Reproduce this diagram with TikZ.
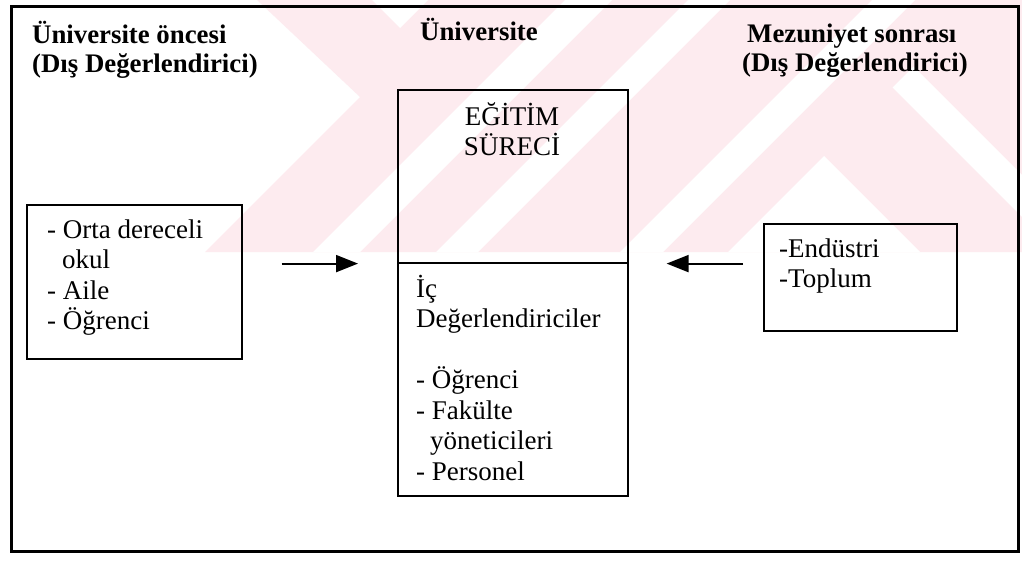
\documentclass[tikz,border=0pt]{standalone}
\usepackage{fontspec}
\setmainfont{Liberation Serif}
\usetikzlibrary{arrows.meta}
\definecolor{wmpink}{RGB}{253,235,239}
\begin{document}
\begin{tikzpicture}[x=1pt,y=-1pt,
  box/.style={draw, line width=1.6pt, inner sep=0pt, anchor=north west},
  txt/.style={anchor=base west, inner sep=0pt, font=\fontsize{27}{30.5}\selectfont},
  head/.style={anchor=base west, inner sep=0pt, font=\fontsize{26.8}{29}\selectfont\bfseries},
  arr/.style={line width=2pt, -{Triangle[length=22pt,width=17pt]}}]
\useasboundingbox[fill=white] (0,0) rectangle (1022,566);

% light pink background pattern of diagonal bands
\fill[wmpink] (257,0) -- (1022,0) -- (1022,252) -- (205,252) -- (360,97) -- cycle;
\fill[white] (372,0) -- (428,0) -- (400,28) -- cycle;
\fill[white] (565,0) -- (612,0) -- (360,252) -- (313,252) -- cycle;
\fill[white] (688,0) -- (730,0) -- (478,252) -- (436,252) -- cycle;
\fill[white] (872,0) -- (915,0) -- (663,252) -- (620,252) -- cycle;
\fill[white] (824,156) -- (920,252) -- (728,252) -- cycle;
\fill[white] (892.5,87.5) -- (913.5,66.5) -- (1022,175) -- (1022,217) -- cycle;

% outer frame
\node[box, line width=3pt, minimum width=1007pt, minimum height=545pt] (frame) at (10,5) {};

% boxes
\node[box, minimum width=215pt, minimum height=154pt] (pre) at (26,204) {};
\node[box, minimum width=230pt, minimum height=173pt] (proc) at (397,89) {};
\node[box, minimum width=230pt, minimum height=233pt] (inner) at (397,262) {};
\node[box, minimum width=193pt, minimum height=107pt] (post) at (763,223) {};

% column headings
\node[head] (hpre) at (32,43) {\parbox[t]{300pt}{Üniversite öncesi\\(Dış Değerlendirici)}};
\node[head] (huni) at (420,40) {Üniversite};
\node[head] (hpost) at (742,42) {\parbox[t]{300pt}{\hspace*{5pt}Mezuniyet sonrası\\(Dış Değerlendirici)}};

% box contents
\node[txt] (lpre) at (47,238) {\parbox[t]{190pt}{- Orta dereceli\\\hspace*{15pt}okul\\- Aile\\- Öğrenci}};
\node[txt, anchor=base] (lproc) at (512,125) {\parbox[t]{200pt}{\centering EĞİTİM\\SÜRECİ}};
\node[txt] (linner) at (416,297) {\parbox[t]{205pt}{İç\\Değerlendiriciler\\[30.5pt]- Öğrenci\\- Fakülte\\\hspace*{14pt}yöneticileri\\- Personel}};
\node[txt] (lpost) at (779,257) {\parbox[t]{170pt}{-Endüstri\\-Toplum}};

% arrows
\draw[arr, shorten <=39pt, shorten >=39pt] (pre.east |- proc.south) -- (proc.south west);
\draw[arr, shorten <=20pt, shorten >=38pt] (post.west |- proc.south) -- (proc.south east);
\end{tikzpicture}
\end{document}
